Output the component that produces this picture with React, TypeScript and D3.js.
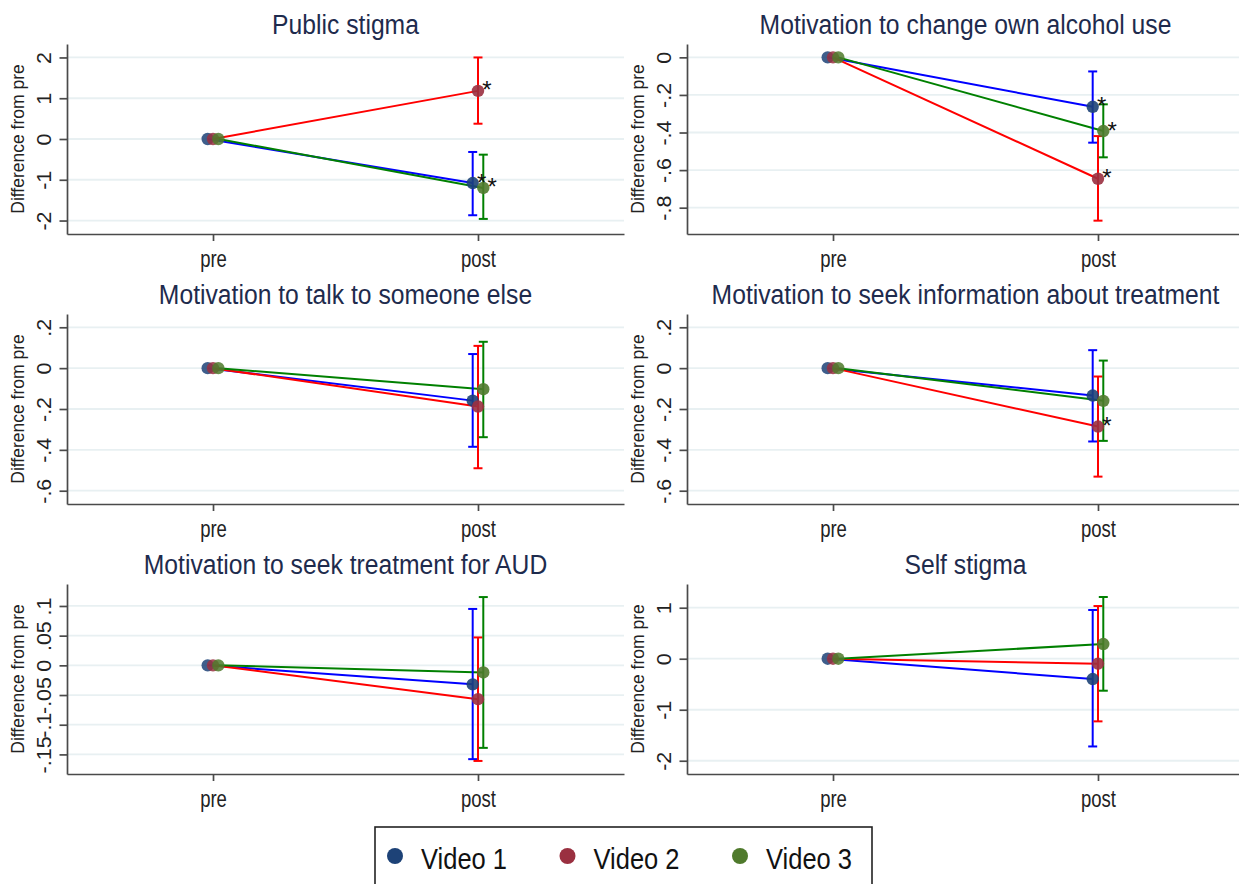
import React, { useEffect, useRef } from 'react';
import * as d3 from 'd3';

const panelTitles = [
  'Public stigma',
  'Motivation to change own alcohol use',
  'Motivation to talk to someone else',
  'Motivation to seek information about treatment',
  'Motivation to seek treatment for AUD',
  'Self stigma',
];
const timepoints = ['pre', 'post'];
const seriesNames = ['Video 1', 'Video 2', 'Video 3'];

// difference from pre at the pre timepoint is 0 by definition
const preEstimate = [0, 0, 0];

// post estimates per panel: Video 1, Video 2, Video 3
const postEstimate = [
  [-1.08, 1.18, -1.2],
  [-0.263, -0.646, -0.392],
  [-0.159, -0.188, -0.103],
  [-0.134, -0.286, -0.16],
  [-0.032, -0.057, -0.012],
  [-0.398, -0.098, 0.288],
];
const ciLower = [
  [-1.87, 0.375, -1.96],
  [-0.454, -0.869, -0.532],
  [-0.385, -0.49, -0.338],
  [-0.359, -0.531, -0.356],
  [-0.158, -0.161, -0.139],
  [-1.72, -1.228, -0.627],
];
const ciUpper = [
  [-0.318, 2.0, -0.384],
  [-0.075, -0.419, -0.25],
  [0.069, 0.109, 0.129],
  [0.088, -0.041, 0.037],
  [0.095, 0.047, 0.115],
  [0.955, 1.033, 1.21],
];
const significant = [
  [1, 1, 1],
  [1, 1, 1],
  [0, 0, 0],
  [0, 1, 0],
  [0, 0, 0],
  [0, 0, 0],
];
const yTicks = [
  [2, 1, 0, -1, -2],
  [0, -0.2, -0.4, -0.6, -0.8],
  [0.2, 0, -0.2, -0.4, -0.6],
  [0.2, 0, -0.2, -0.4, -0.6],
  [0.1, 0.05, 0, -0.05, -0.1, -0.15],
  [1, 0, -1, -2],
];
const yDomains = [
  [-2.33, 2.33],
  [-0.94, 0.071],
  [-0.665, 0.265],
  [-0.665, 0.265],
  [-0.183, 0.137],
  [-2.26, 1.465],
];

const lineColors = ['#0000ff', '#ff0000', '#008000'];
const markerColors = ['#1d4277', '#9a3040', '#4f7a2c'];
const xOffsets = [-0.02, 0, 0.02];

const FONT = '"Liberation Sans", Arial, sans-serif';
const K = 1.15; // text in the source is a bit tall and narrow

// stata style tick labels: .2, -.05, 0
const fmt = (d: number) => (d === 0 ? '0' : String(d).replace('0.', '.'));

export default function App() {
  const ref = useRef<SVGSVGElement>(null);

  useEffect(() => {
    const svg = d3.select(ref.current);
    svg.selectAll('*').remove();
    svg.append('rect').attr('width', 1239).attr('height', 884).attr('fill', 'white');

    panelTitles.forEach((title, p) => {
      const colX = (p % 2) * 620;
      const rowY = Math.floor(p / 2) * 270;
      const g = svg.append('g').attr('transform', `translate(${colX},${rowY})`);

      const x = d3.scaleLinear().domain([0.449, 2.551]).range([67, 624]);
      const y = d3.scaleLinear().domain(yDomains[p]).range([234, 44]);

      // grid
      g.selectAll('line.grid')
        .data(yTicks[p])
        .enter()
        .append('line')
        .attr('x1', 67)
        .attr('x2', 624)
        .attr('y1', d => y(d))
        .attr('y2', d => y(d))
        .attr('stroke', '#e8f0f2')
        .attr('stroke-width', 1.8);

      // y axis
      const yAxis = g.append('g')
        .attr('transform', 'translate(67,0)')
        .call(d3.axisLeft(y).tickValues(yTicks[p]).tickSize(7.5).tickSizeOuter(0).tickFormat(d => fmt(+d)));
      yAxis.selectAll('path, line').attr('stroke', '#4a4a4a').attr('stroke-width', 1.7);
      yAxis.selectAll('text')
        .attr('x', null)
        .attr('dy', null)
        .attr('text-anchor', 'middle')
        .attr('transform', `translate(-16.5,0) scale(1,1.1) rotate(-90)`)
        .style('font-family', FONT)
        .style('font-size', '19.5px')
        .attr('fill', '#222');

      // x axis
      const xAxis = g.append('g')
        .attr('transform', 'translate(0,234)')
        .call(d3.axisBottom(x).tickValues([1, 2]).tickSize(7).tickSizeOuter(0).tickFormat(d => timepoints[+d - 1]));
      xAxis.selectAll('path, line').attr('stroke', '#4a4a4a').attr('stroke-width', 1.7);
      xAxis.selectAll('text')
        .attr('y', null)
        .attr('dy', null)
        .attr('transform', `translate(0,33) scale(1,1.25)`)
        .style('font-family', FONT)
        .style('font-size', '18.5px')
        .attr('fill', '#222');

      // axis title
      g.append('text')
        .attr('transform', `translate(23.5,${(44 + 234) / 2}) rotate(-90)`)
        .attr('text-anchor', 'middle')
        .style('font-family', FONT)
        .style('font-size', '17.5px')
        .attr('fill', '#222')
        .text('Difference from pre');

      // panel title
      g.append('text')
        .attr('transform', `translate(${(67 + 624) / 2},34) scale(1,${K})`)
        .attr('text-anchor', 'middle')
        .style('font-family', FONT)
        .style('font-size', '24.7px')
        .attr('fill', '#1e2b4d')
        .text(title);

      // connecting lines
      seriesNames.forEach((s, i) => {
        g.append('line')
          .attr('x1', x(1 + xOffsets[i]))
          .attr('y1', y(preEstimate[i]))
          .attr('x2', x(2 + xOffsets[i]))
          .attr('y2', y(postEstimate[p][i]))
          .attr('stroke', lineColors[i])
          .attr('stroke-width', 2);
      });

      // confidence intervals
      seriesNames.forEach((s, i) => {
        const cx = x(2 + xOffsets[i]);
        const eb = g.append('g').attr('stroke', lineColors[i]).attr('stroke-width', 2);
        eb.append('line').attr('x1', cx).attr('x2', cx).attr('y1', y(ciLower[p][i])).attr('y2', y(ciUpper[p][i]));
        [ciLower[p][i], ciUpper[p][i]].forEach(v => {
          eb.append('line').attr('x1', cx - 4.5).attr('x2', cx + 4.5).attr('y1', y(v)).attr('y2', y(v));
        });
      });

      // markers
      seriesNames.forEach((s, i) => {
        g.append('circle')
          .attr('cx', x(1 + xOffsets[i]))
          .attr('cy', y(preEstimate[i]))
          .attr('r', 6.2)
          .attr('fill', markerColors[i])
          .attr('fill-opacity', 0.85);
      });
      seriesNames.forEach((s, i) => {
        g.append('circle')
          .attr('cx', x(2 + xOffsets[i]))
          .attr('cy', y(postEstimate[p][i]))
          .attr('r', 6.2)
          .attr('fill', markerColors[i])
          .attr('fill-opacity', 0.9);
      });

      // significance stars
      seriesNames.forEach((s, i) => {
        if (!significant[p][i]) return;
        g.append('text')
          .attr('x', x(2 + xOffsets[i]) + 9)
          .attr('y', y(postEstimate[p][i]) + 7.5)
          .attr('text-anchor', 'middle')
          .style('font-family', FONT)
          .style('font-size', '24px')
          .attr('fill', '#111')
          .text('*');
      });
    });

    // legend
    const lg = svg.append('g');
    lg.append('rect')
      .attr('x', 375)
      .attr('y', 827)
      .attr('width', 497)
      .attr('height', 80)
      .attr('fill', 'white')
      .attr('stroke', '#222')
      .attr('stroke-width', 1.6);
    const legendX = d3.scaleLinear().domain([0, 2]).range([395, 740]);
    seriesNames.forEach((s, i) => {
      lg.append('circle')
        .attr('cx', legendX(i))
        .attr('cy', 856)
        .attr('r', 8)
        .attr('fill', markerColors[i]);
      lg.append('text')
        .attr('transform', `translate(${legendX(i) + 26},869) scale(1,${K})`)
        .style('font-family', FONT)
        .style('font-size', '25.5px')
        .attr('fill', '#111')
        .text(s);
    });
  }, []);

  return (
    <svg
      ref={ref}
      width={1239}
      height={884}
      style={{ position: 'absolute', left: 0, top: 0, display: 'block' }}
    />
  );
}
